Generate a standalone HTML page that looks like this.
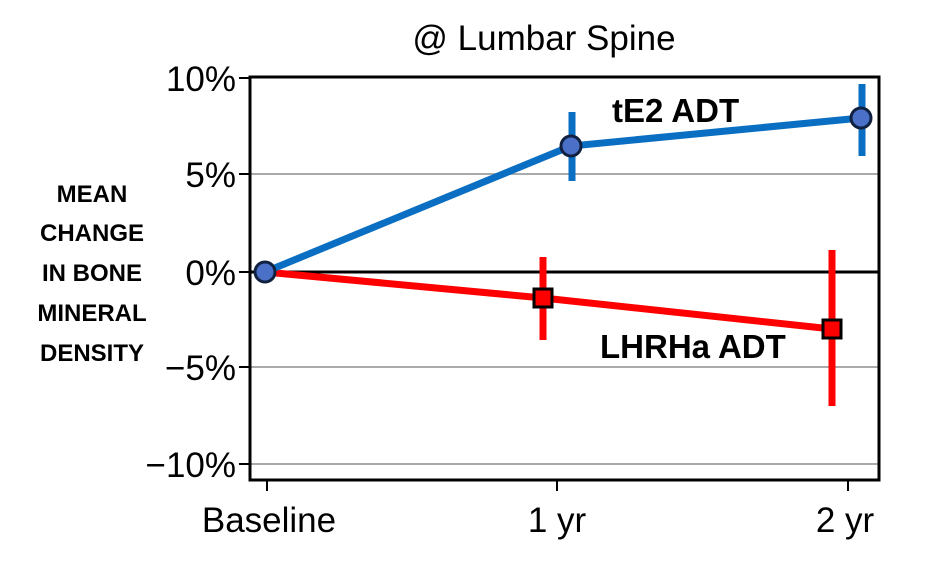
<!DOCTYPE html>
<html><head><style>body{margin:0;background:#fff}</style></head><body>
<svg width="936" height="558" xmlns="http://www.w3.org/2000/svg" font-family="Liberation Sans, sans-serif">
<rect width="936" height="558" fill="#fff"/>
<text x="544" y="50" font-size="35" text-anchor="middle">@ Lumbar Spine</text>
<g stroke="#aaa" stroke-width="2">
<line x1="250" y1="174" x2="879" y2="174"/>
<line x1="250" y1="367" x2="879" y2="367"/>
<line x1="250" y1="464" x2="879" y2="464"/>
</g>
<line x1="250" y1="272" x2="879" y2="272" stroke="#000" stroke-width="3"/>
<rect x="250" y="77" width="629" height="403" fill="none" stroke="#000" stroke-width="3"/>
<g stroke="#000" stroke-width="2">
<line x1="239" y1="78" x2="250" y2="78"/><line x1="239" y1="174" x2="250" y2="174"/>
<line x1="239" y1="272" x2="250" y2="272"/><line x1="239" y1="367" x2="250" y2="367"/>
<line x1="239" y1="464" x2="250" y2="464"/>
<line x1="267" y1="480" x2="267" y2="491"/><line x1="557" y1="480" x2="557" y2="491"/>
<line x1="848" y1="480" x2="848" y2="491"/>
</g>
<g font-size="35" text-anchor="end">
<text x="236" y="91">10%</text><text x="236" y="187">5%</text><text x="236" y="285">0%</text>
<text x="236" y="380">−5%</text><text x="236" y="477">−10%</text>
</g>
<g font-size="35" text-anchor="middle">
<text x="269" y="532">Baseline</text><text x="557" y="532">1 yr</text><text x="845" y="532">2 yr</text>
</g>
<g font-size="24" font-weight="bold" text-anchor="middle">
<text x="92" y="202">MEAN</text><text x="92" y="241">CHANGE</text><text x="92" y="281">IN BONE</text>
<text x="92" y="321">MINERAL</text><text x="92" y="361">DENSITY</text>
</g>
<g stroke="#f00" stroke-width="7" fill="none">
<polyline points="265,272 543,298 832,329"/>
<line x1="543" y1="257" x2="543" y2="340"/>
<line x1="832" y1="250" x2="832" y2="406"/>
</g>
<rect x="534" y="289" width="18" height="18" fill="#f00" stroke="#000" stroke-width="3"/>
<rect x="823" y="320" width="18" height="18" fill="#f00" stroke="#000" stroke-width="3"/>
<g stroke="#0a6fc2" stroke-width="7" fill="none">
<polyline points="265,272 571,146 861,118"/>
<line x1="572" y1="112" x2="572" y2="181"/>
<line x1="862" y1="84" x2="862" y2="156"/>
</g>
<g fill="#4a70c8" stroke="#102040" stroke-width="3">
<circle cx="265" cy="272" r="10"/><circle cx="571" cy="146" r="10"/><circle cx="861" cy="118" r="10"/>
</g>
<g font-size="33" font-weight="bold">
<text x="612" y="122">tE2 ADT</text>
<text x="600" y="358">LHRHa ADT</text>
</g>
</svg>
</body></html>
